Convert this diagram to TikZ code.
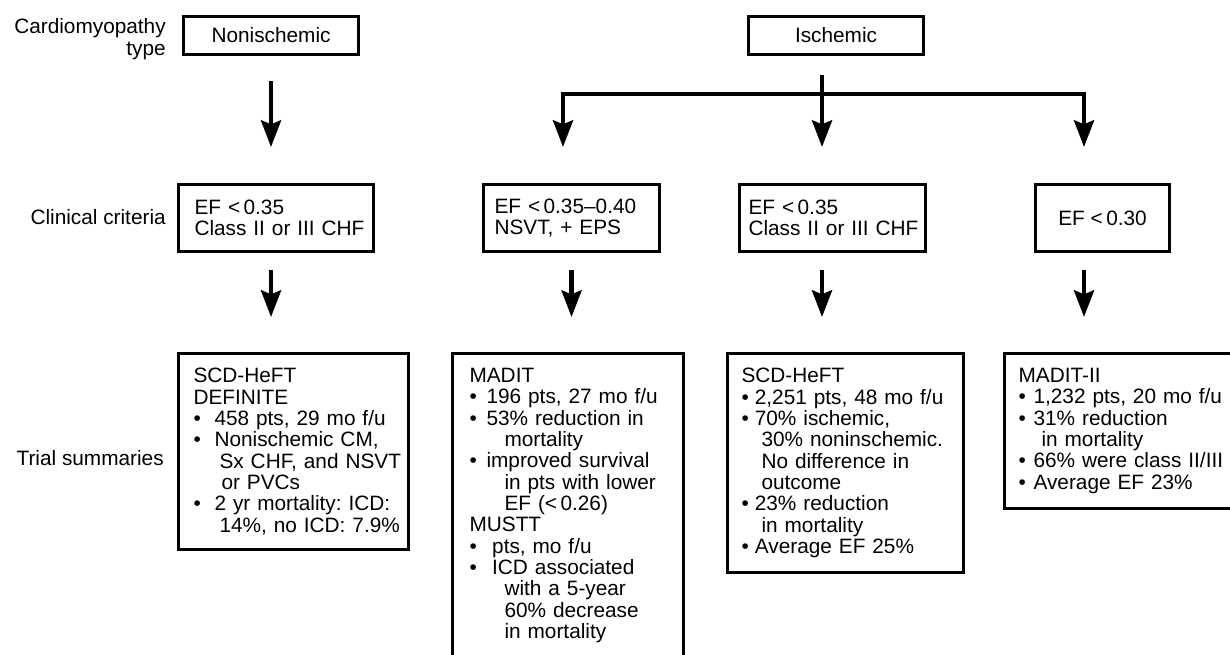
\documentclass[tikz,border=0pt]{standalone}
\usepackage{fontspec}
\setmainfont{Liberation Sans}
\usetikzlibrary{arrows.meta}
\frenchspacing

\newcommand{\bitem}[2][12.75pt]{\mbox{\makebox[#1][l]{\textbullet}#2}}
\newcommand{\bcont}[2][26.25pt]{\mbox{\hspace*{#1}#2}}

\tikzset{
  txt/.style={font=\fontsize{15.6}{16}\selectfont},
  lbl/.style={txt, inner sep=0pt},
  box/.style={txt, draw, line width=2.3pt, anchor=north west},
  typebox/.style={box, minimum width=131.25pt, minimum height=28.5pt},
  crit/.style={box, align=left, minimum height=50.25pt, inner ysep=0pt},
  summ/.style={box, align=left, inner ysep=11pt},
  arr/.style={line width=3.2pt, line join=miter, -{Stealth[length=20pt,width=15pt,inset=3pt]}},
  arrs/.style={arr, {Stealth[length=20pt,width=15pt,inset=3pt]}-{Stealth[length=20pt,width=15pt,inset=3pt]}}
}

\begin{document}
\begin{tikzpicture}[x=0.75pt, y=-0.75pt]
\useasboundingbox (0,0) rectangle (1230,654);

\node[lbl, align=right, anchor=east] (typelbl) at (166,39) {Cardiomyopathy\\type};
\node[typebox] (nonisch) at (182,15) {Nonischemic};
\node[typebox] (isch) at (747,15) {Ischemic};

\node[lbl, anchor=base east] (critlbl) at (166,224.5) {Clinical criteria};
\node[crit, text width=122.25pt, inner xsep=12pt] (crit1) at (177,183) {\mbox{EF <\,0.35}\\\mbox{Class II or III CHF}};
\node[crit, text width=115.5pt, inner xsep=8.25pt] (crit2) at (482,183) {\mbox{EF <\,0.35--0.40}\\\mbox{NSVT, + EPS}};
\node[crit, text width=126pt, inner xsep=6.75pt] (crit3) at (738,183) {\mbox{EF <\,0.35}\\\mbox{Class II or III CHF}};
\node[box, minimum width=100.5pt, minimum height=50.25pt] (crit4) at (1034,183) {EF <\,0.30};

\node[lbl, anchor=base east] (triallbl) at (164,465) {Trial summaries};
\node[summ, text width=150pt, inner xsep=11.25pt] (sum1) at (177,352) {SCD-HeFT\\
DEFINITE\\
\bitem[15.75pt]{458 pts, 29 mo f/u}\\
\bitem[15.75pt]{Nonischemic CM,}\\
\bcont[19.5pt]{Sx CHF, and NSVT}\\
\bcont[21pt]{or PVCs}\\
\bitem[15.75pt]{2 yr mortality: ICD:}\\
\bcont[19.5pt]{14\%, no ICD: 7.9\%}};
\node[summ, text width=147.75pt, inner xsep=12.75pt] (sum2) at (451,352) {MADIT\\
\bitem{196 pts, 27 mo f/u}\\
\bitem{53\% reduction in}\\
\bcont{mortality}\\
\bitem{improved survival}\\
\bcont{in pts with lower}\\
\bcont{EF (<\,0.26)}\\
MUSTT\\
\bitem[17pt]{pts, mo f/u}\\
\bitem[17pt]{ICD associated}\\
\bcont{with a 5-year}\\
\bcont{60\% decrease}\\
\bcont{in mortality}\rule[-40pt]{0pt}{1pt}};
\node[summ, text width=156pt, inner xsep=10.5pt] (sum3) at (726,352) {SCD-HeFT\\
\bitem[10pt]{2,251 pts, 48 mo f/u}\\
\bitem[10pt]{70\% ischemic,}\\
\bcont[15pt]{30\% noninschemic.}\\
\bcont[15pt]{No difference in}\\
\bcont[15pt]{outcome}\\
\bitem[10pt]{23\% reduction}\\
\bcont[15pt]{in mortality}\\
\bitem[10pt]{Average EF 25\%}};
\node[summ, text width=174pt, inner xsep=10.5pt] (sum4) at (1003,352) {MADIT-II\\
\bitem[11.25pt]{1,232 pts, 20 mo f/u}\\
\bitem[11.25pt]{31\% reduction}\\
\bcont[17.25pt]{in mortality}\\
\bitem[11.25pt]{66\% were class II/III}\\
\bitem[11.25pt]{Average EF 23\%}};

\coordinate (ischtop) at (822,75);
\coordinate (brL) at (563,94);
\coordinate (brR) at (1084,94);

\draw[arr, shorten <=18.75pt, shorten >=27pt] (nonisch.south) -- (nonisch.south |- crit1.north);
\draw[arr, shorten >=27pt] (ischtop) -- (ischtop |- crit3.north);
\draw[arrs, shorten <=27pt, shorten >=27pt] (brL |- crit2.north) -- (brL) -- (brR) -- (brR |- crit4.north);

\draw[arr, shorten <=12.75pt, shorten >=26.25pt] (crit1.south -| nonisch.south) -- (nonisch.south |- sum1.north);
\draw[arr, shorten <=12.75pt, shorten >=26.25pt] (crit2.south) -- (crit2.south |- sum2.north);
\draw[arr, shorten <=12.75pt, shorten >=26.25pt] (crit3.south -| ischtop) -- (ischtop |- sum3.north);
\draw[arr, shorten <=12.75pt, shorten >=26.25pt] (crit4.south -| brR) -- (brR |- sum4.north);
\end{tikzpicture}
\end{document}
